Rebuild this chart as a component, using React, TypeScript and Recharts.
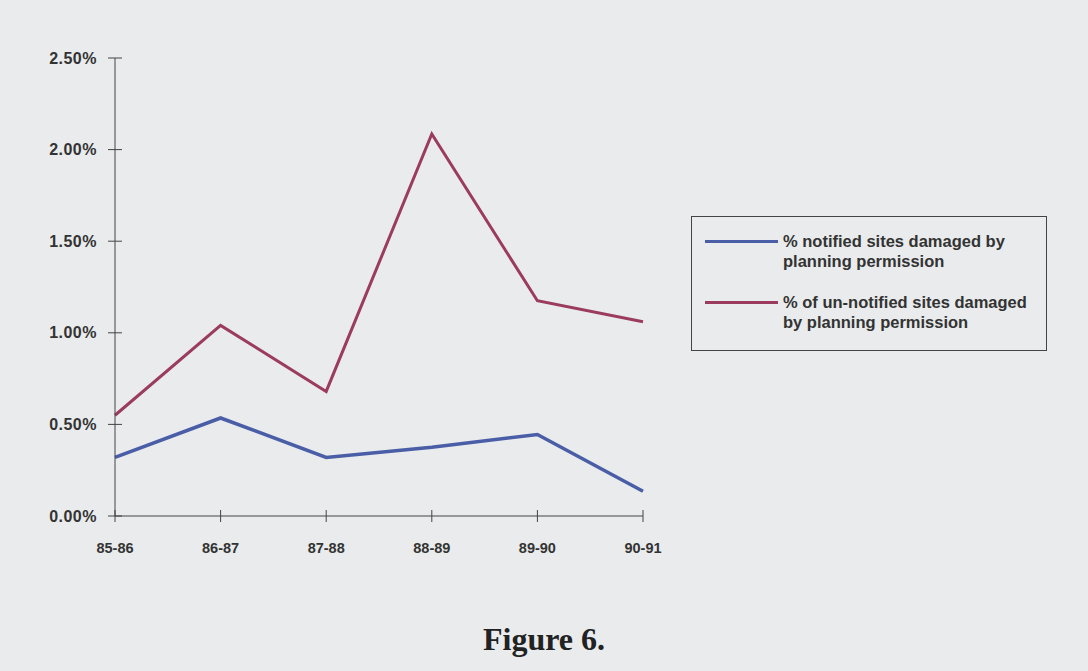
import React from 'react';
import { LineChart, Line, XAxis, YAxis } from 'recharts';

const years = ['85-86', '86-87', '87-88', '88-89', '89-90', '90-91'];
const notifiedDamaged = [0.32, 0.535, 0.32, 0.375, 0.445, 0.135];
const unnotifiedDamaged = [0.55, 1.04, 0.68, 2.085, 1.175, 1.06];
const yTicks = [0, 0.5, 1.0, 1.5, 2.0, 2.5];

const seriesInfo = [
  { key: 'notified', color: '#4a5ea8', lines: ['% notified sites damaged by', 'planning permission'] },
  { key: 'unnotified', color: '#9b3b5e', lines: ['% of un-notified sites damaged', 'by planning permission'] },
];

const data = years.map((year, i) => ({
  year,
  notified: notifiedDamaged[i],
  unnotified: unnotifiedDamaged[i],
}));

const font = 'Arial, "Liberation Sans", Helvetica, sans-serif';

const YTick = (props: any) => {
  const { x, y, payload } = props;
  return (
    <g>
      <line x1={x - 7} x2={x + 7} y1={y} y2={y} stroke="#444" strokeWidth={1} />
      <text x={x - 18} y={y} dy={5.5} textAnchor="end" fontFamily={font} fontWeight="bold" fontSize={16} fill="#333" letterSpacing={0.5}>
        {Number(payload.value).toFixed(2)}%
      </text>
    </g>
  );
};

const XTick = (props: any) => {
  const { x, y, payload } = props;
  return (
    <g>
      <line x1={x} x2={x} y1={y - 6} y2={y + 6} stroke="#444" strokeWidth={1} />
      <text x={x} y={y + 37} textAnchor="middle" fontFamily={font} fontWeight="bold" fontSize={14.5} fill="#333">
        {payload.value}
      </text>
    </g>
  );
};

const LegendBox = () => (
  <div
    style={{
      position: 'absolute',
      left: 691,
      top: 216,
      width: 354,
      height: 133,
      border: '1px solid #444',
      fontFamily: font,
      fontWeight: 'bold',
      fontSize: 16.5,
      color: '#333',
      lineHeight: '20px',
    }}
  >
    {seriesInfo.map((s, i) => (
      <div key={s.key} style={{ position: 'absolute', left: 13, top: 14 + i * 61, display: 'flex', whiteSpace: 'nowrap' }}>
        <div style={{ width: 73, height: 3, background: s.color, marginTop: 9, marginRight: 5 }} />
        <div>
          {s.lines.map((l) => (
            <div key={l}>{l}</div>
          ))}
        </div>
      </div>
    ))}
  </div>
);

export default function App() {
  return (
    <div style={{ position: 'fixed', left: 0, top: 0, width: 1088, height: 671, background: '#e9ebec' }}>
      <LineChart width={1088} height={671} data={data} margin={{ top: 58, right: 445, left: 0, bottom: 95 }}>
        <XAxis
          dataKey="year"
          axisLine={{ stroke: '#444', strokeWidth: 1 }}
          tickLine={false}
          tickSize={0}
          tickMargin={0}
          tick={<XTick />}
          height={60}
          interval={0}
        />
        <YAxis
          domain={[0, 2.5]}
          ticks={yTicks}
          axisLine={{ stroke: '#444', strokeWidth: 1 }}
          tickLine={false}
          tickSize={0}
          tickMargin={0}
          tick={<YTick />}
          width={115}
          interval={0}
        />
        <Line dataKey="notified" stroke="#4a5ea8" strokeWidth={3.5} dot={false} isAnimationActive={false} />
        <Line dataKey="unnotified" stroke="#9b3b5e" strokeWidth={3} dot={false} isAnimationActive={false} />
      </LineChart>
      <LegendBox />
      <div
        style={{
          position: 'absolute',
          left: 0,
          width: 1088,
          top: 621,
          textAlign: 'center',
          fontFamily: '"Liberation Serif", "Times New Roman", serif',
          fontWeight: 'bold',
          fontSize: 32,
          color: '#222',
        }}
      >
        Figure 6.
      </div>
    </div>
  );
}
